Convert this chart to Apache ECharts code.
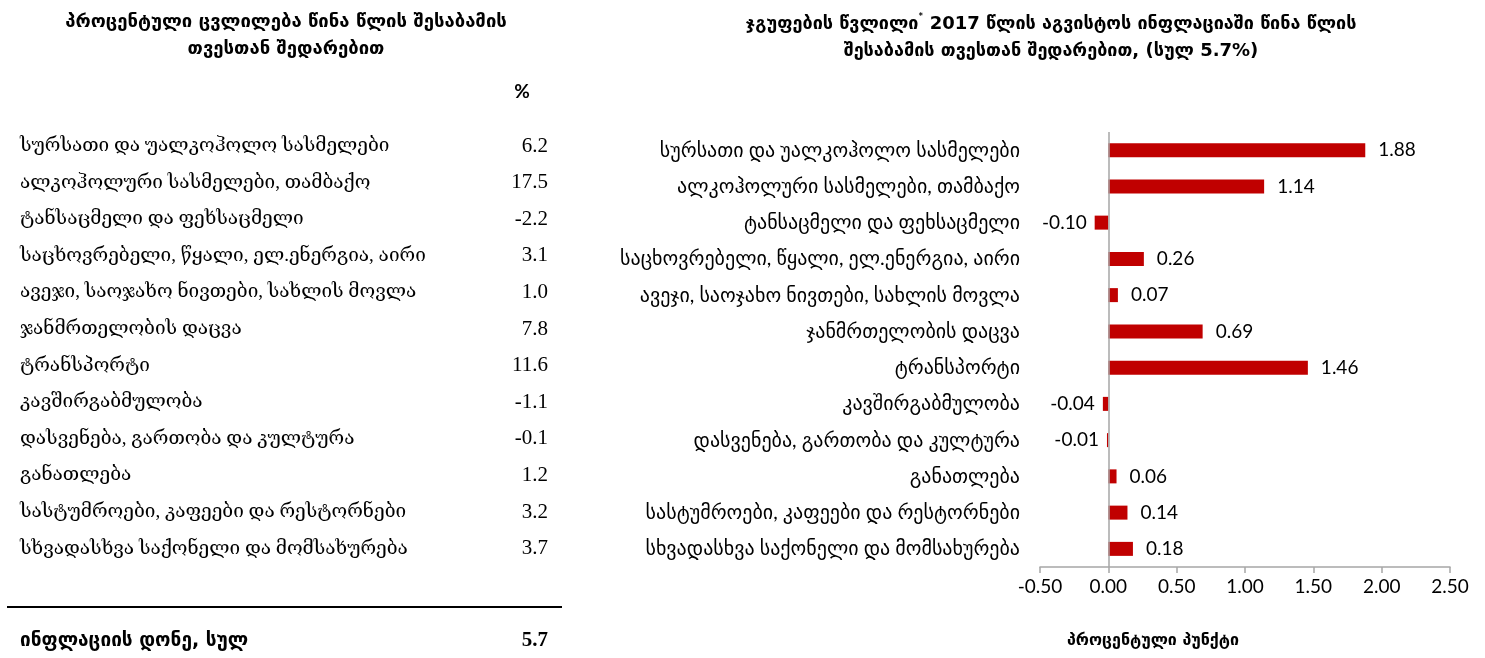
<!DOCTYPE html>
<html><head><meta charset="utf-8">
<script src="https://cdn.jsdelivr.net/npm/echarts@6/dist/echarts.min.js"></script>
<style>html,body{margin:0;padding:0;background:#fff}#c{width:1485px;height:658px}</style>
</head><body><div id="c"></div>
<script>
const categories = [
  'სურსათი და უალკოჰოლო სასმელები',
  'ალკოჰოლური სასმელები, თამბაქო',
  'ტანსაცმელი და ფეხსაცმელი',
  'საცხოვრებელი, წყალი, ელ.ენერგია, აირი',
  'ავეჯი, საოჯახო ნივთები, სახლის მოვლა',
  'ჯანმრთელობის დაცვა',
  'ტრანსპორტი',
  'კავშირგაბმულობა',
  'დასვენება, გართობა და კულტურა',
  'განათლება',
  'სასტუმროები, კაფეები და რესტორნები',
  'სხვადასხვა საქონელი და მომსახურება'
];
const yoyChange = [6.2, 17.5, -2.2, 3.1, 1.0, 7.8, 11.6, -1.1, -0.1, 1.2, 3.2, 3.7];
const contributions = [1.88, 1.14, -0.10, 0.26, 0.07, 0.69, 1.46, -0.04, -0.01, 0.06, 0.14, 0.18];
const totalLabel = 'ინფლაციის დონე, სულ';
const totalInflation = 5.7;
const leftTitle = 'პროცენტული ცვლილება წინა წლის შესაბამის\nთვესთან შედარებით';
const rightTitleA = 'ჯგუფების წვლილი';
const rightTitleB = ' 2017 წლის აგვისტოს ინფლაციაში წინა წლის';
const rightTitleC = 'შესაბამის თვესთან შედარებით, (სულ 5.7%)';
const unitLabel = '%';
const xAxisName = 'პროცენტული პუნქტი';
const xMin = -0.5, xMax = 2.5, xInterval = 0.5;

const serifFont = "'Liberation Serif', 'DejaVu Serif', serif";
const sansFont = "Lato, 'DejaVu Sans', sans-serif";
const boldFont = "'DejaVu Sans', sans-serif";

const chart = echarts.init(document.getElementById('c'));

function txt(text, x, y, opts) {
  const o = Object.assign({fontSize: 19, fontFamily: serifFont, fontWeight: 'normal', align: 'left'}, opts || {});
  return {
    type: 'text', silent: true,
    style: {
      text: text, x: x, y: y, fill: '#000',
      fontSize: o.fontSize, fontFamily: o.fontFamily, fontWeight: o.fontWeight,
      align: o.align, verticalAlign: 'middle', textAlign: o.align, textVerticalAlign: 'middle'
    }
  };
}

const graphics = [];
const rowTop = 146, rowStep = 36.6;
categories.forEach((c, i) => {
  graphics.push(txt(c, 20, rowTop + i * rowStep));
  graphics.push(txt(yoyChange[i].toFixed(1), 548, rowTop + i * rowStep, {align: 'right', fontSize: 21}));
});
graphics.push({type: 'line', silent: true, shape: {x1: 7, y1: 607, x2: 562, y2: 607}, style: {stroke: '#000', lineWidth: 2}});
graphics.push(txt(totalLabel, 20, 641, {fontFamily: boldFont, fontWeight: 'bold', fontSize: 19}));
graphics.push(txt(totalInflation.toFixed(1), 548, 641, {align: 'right', fontWeight: 'bold', fontSize: 21}));
graphics.push(txt(unitLabel, 522, 92, {align: 'center', fontWeight: 'bold', fontFamily: sansFont, fontSize: 19}));
graphics.push(txt(xAxisName, 1153, 641, {align: 'center', fontFamily: boldFont, fontWeight: 'bold', fontSize: 16}));

const option = {
  animation: false,
  backgroundColor: '#fff',
  title: [
    {
      text: leftTitle, left: 281, top: 4, textAlign: 'center',
      textStyle: {fontFamily: boldFont, fontWeight: 'bold', fontSize: 18.5, color: '#000', lineHeight: 27}
    },
    {
      text: '{a|' + rightTitleA + '}{s|*}{a|' + rightTitleB + '}\n{a|' + rightTitleC + '}',
      left: 1046, top: 6, textAlign: 'center',
      textStyle: {
        rich: {
          a: {fontFamily: boldFont, fontWeight: 'bold', fontSize: 18, color: '#000', lineHeight: 27},
          s: {fontFamily: sansFont, fontSize: 12, color: '#000', verticalAlign: 'top', lineHeight: 27, padding: [0, 0, 10, 0]}
        }
      }
    }
  ],
  graphic: graphics,
  grid: {left: 1040, right: 35, top: 132, bottom: 91, containLabel: false},
  xAxis: {
    type: 'value', min: xMin, max: xMax, interval: xInterval,
    axisLine: {show: true, lineStyle: {color: '#a6a6a6', width: 1.5}},
    axisTick: {show: true, length: 6, lineStyle: {color: '#a6a6a6', width: 1.5}},
    splitLine: {show: false},
    axisLabel: {color: '#000', fontSize: 19, fontFamily: sansFont, margin: 10, formatter: v => v.toFixed(2)}
  },
  yAxis: {
    type: 'category', data: categories, inverse: true,
    axisLine: {show: false}, axisTick: {show: false},
    axisLabel: {color: '#000', fontSize: 20, fontFamily: sansFont, margin: 20}
  },
  series: [{
    type: 'bar', barWidth: 14,
    itemStyle: {color: '#c00000'},
    data: contributions.map(v => ({
      value: v,
      label: {position: v < 0 ? 'left' : 'right', distance: v < 0 ? 8 : 13}
    })),
    label: {show: true, color: '#000', fontSize: 19, fontFamily: sansFont, formatter: p => p.value.toFixed(2)},
    markLine: {
      silent: true, symbol: 'none', animation: false,
      label: {show: false},
      lineStyle: {color: '#a6a6a6', width: 1.5, type: 'solid'},
      data: [{xAxis: 0}]
    }
  }]
};
chart.setOption(option);
</script></body></html>
